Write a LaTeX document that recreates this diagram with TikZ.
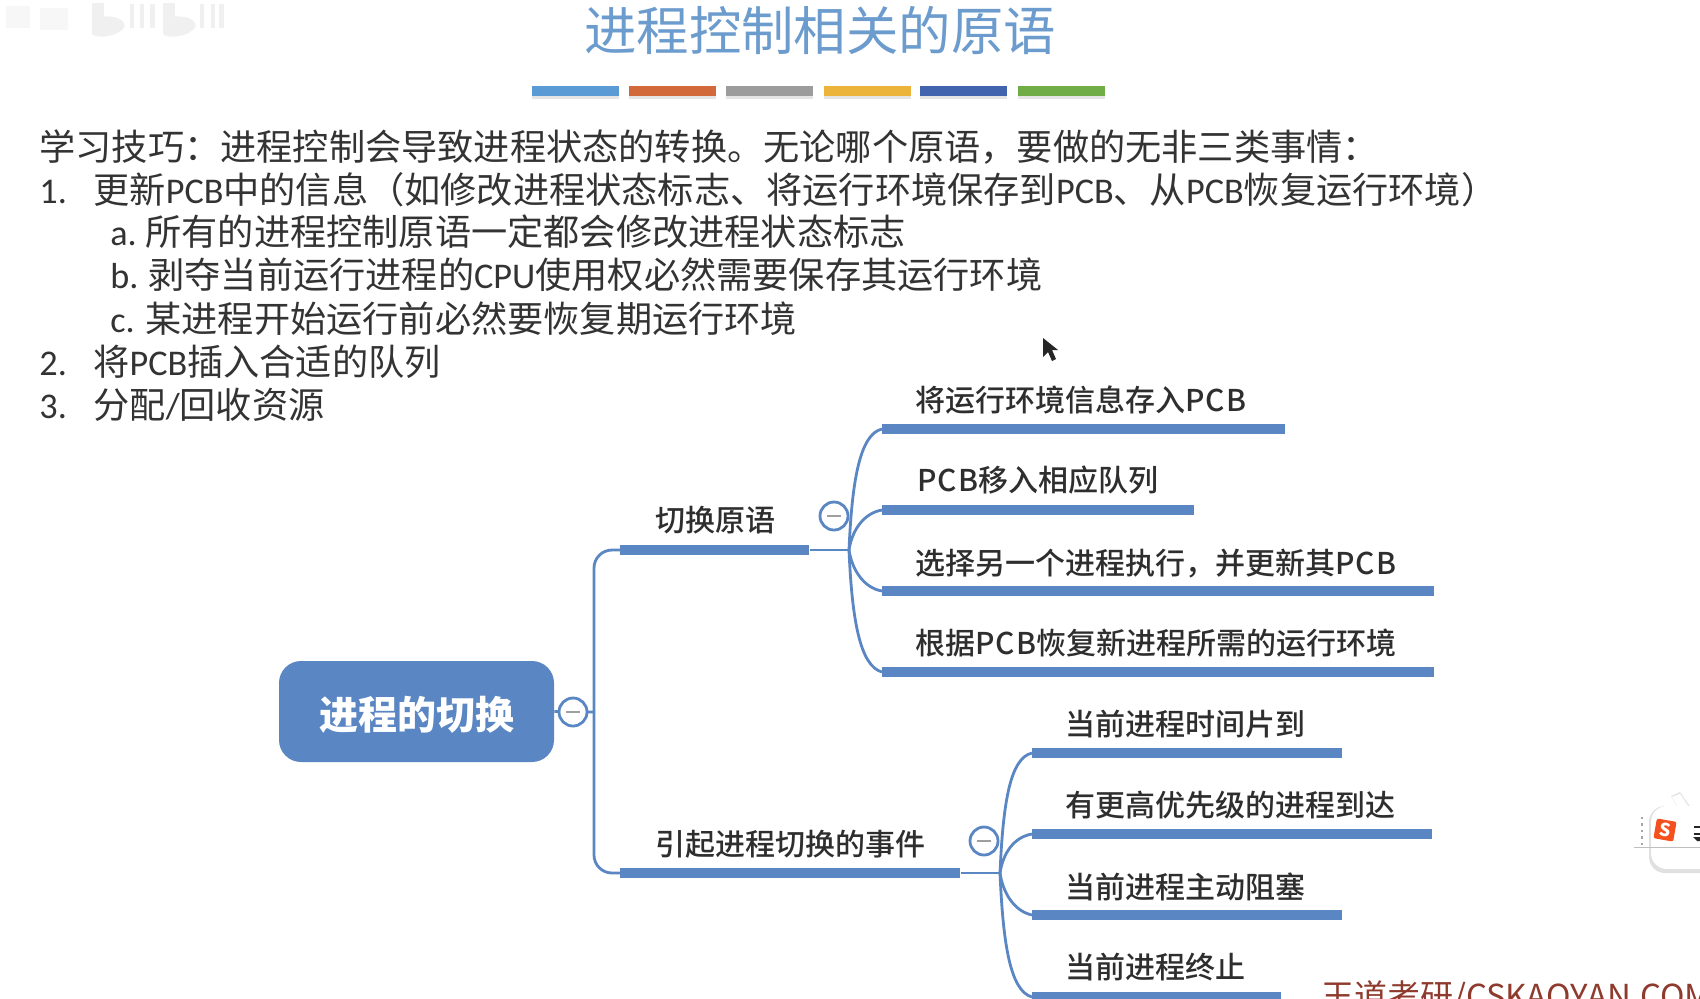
\documentclass[tikz,border=0pt]{standalone}
\usepackage{fontspec}
\setmainfont{Noto Sans CJK SC}
\newfontfamily\medi{Noto Sans CJK SC Medium}
\newfontfamily\lat{Carlito}
\newcommand\la[1]{{\lat #1}}
\newcommand\pcb{{\addfontfeature{LetterSpace=3}PCB}}
\definecolor{mapblue}{HTML}{5A86C3}
\definecolor{txt}{HTML}{2E2E2E}
\definecolor{body}{HTML}{333333}
\definecolor{titleblue}{HTML}{6C9CCD}
\definecolor{sitered}{HTML}{8E3B2E}
\definecolor{imeorange}{HTML}{F4511E}
\tikzset{
  bodyline/.style={anchor=base west,inner sep=0pt,text=body,font=\fontsize{18.1}{20}\selectfont},
  maptext/.style={anchor=base west,inner sep=0pt,text=txt,font=\medi\fontsize{15}{18}\selectfont},
  barline/.style={anchor=west,fill=mapblue,inner sep=0pt,minimum height=4.6pt},
  link/.style={draw=mapblue,line width=1.4pt},
  minusdot/.style={circle,draw=mapblue,line width=1.4pt,fill=white,inner sep=0pt,minimum size=14pt},
  minusbar/.style={draw=gray!75,line width=1.2pt},
  ribbon/.style={anchor=north west,inner sep=0pt,minimum width=43.5pt,minimum height=4.8pt}
}
\begin{document}
\begin{tikzpicture}[x=0.5pt,y=-0.5pt]
\clip (0,0) rectangle (1700,998);
\fill[white] (0,0) rectangle (1700,998);

% faint watermark, top left
\begin{scope}[black!6]
\fill (92,3) rectangle (104,30);
\fill (92,18) .. controls (120,12) and (130,24) .. (122,30) .. controls (112,38) and (95,38) .. (92,34) -- cycle;
\fill (163,3) rectangle (175,30);
\fill (163,18) .. controls (191,12) and (201,24) .. (193,30) .. controls (183,38) and (166,38) .. (163,34) -- cycle;
\fill (130,4) rectangle (134,28); \fill (140,4) rectangle (144,28); \fill (150,4) rectangle (155,28);
\fill (200,4) rectangle (204,28); \fill (211,4) rectangle (215,28); \fill (219,4) rectangle (224,28);
\end{scope}
\fill[black!3] (6,6) rectangle (30,28);
\fill[black!3] (40,8) rectangle (68,30);

% title
\node[anchor=base,inner sep=0pt,text=titleblue,font=\fontsize{26.2}{30}\selectfont] (title) at (820,50) {进程控制相关的原语};

% ribbon
\foreach \x/\c in {532/5B9BD5,629/D2693A,726/9C9C9C,824/EDB43C,920/4263AE,1018/70AD47}{
  \definecolor{rb}{HTML}{\c}
  \fill[black!10] (\x,90) rectangle (\x+87,99);
  \node[ribbon,fill=rb] at (\x,85.5) {};
}

% body text
\node[bodyline] (l0) at (39,160) {学习技巧：进程控制会导致进程状态的转换。无论哪个原语，要做的无非三类事情：};
\node[bodyline] (n1) at (39,203) {\la{1.}};
\node[bodyline] (l1) at (93,203) {更新\la{PCB}中的信息（如修改进程状态标志、将运行环境保存到\la{PCB}、从\la{PCB}恢复运行环境）};
\node[bodyline] (na) at (110,245) {\la{a.}};
\node[bodyline] (la) at (145,245) {所有的进程控制原语一定都会修改进程状态标志};
\node[bodyline] (nb) at (110,288) {\la{b.}};
\node[bodyline] (lb) at (148,288) {剥夺当前运行进程的\la{CPU}使用权必然需要保存其运行环境};
\node[bodyline] (nc) at (110,332) {\la{c.}};
\node[bodyline] (lc) at (145,332) {某进程开始运行前必然要恢复期运行环境};
\node[bodyline] (n2) at (39,375) {\la{2.}};
\node[bodyline] (l2) at (93,375) {将\la{PCB}插入合适的队列};
\node[bodyline] (n3) at (39,418) {\la{3.}};
\node[bodyline] (l3) at (93,418) {分配\la{/}回收资源};

% cursor
\fill[black!85] (1043,338) -- (1043,357) -- (1048,352) -- (1052,361) -- (1056,359) -- (1052,350) -- (1058,350) -- cycle;

% mind map: root and bars
\node[rounded corners=11pt,fill=mapblue,minimum width=137.5pt,minimum height=50.5pt,inner sep=0pt,text=white,font=\fontsize{19.5}{22}\bfseries\selectfont] (root) at (416.5,711.5) {\smash{\raisebox{-9pt}{进程的切换}}};

\node[barline,minimum width=94.5pt] (s1) at (620,550) {};
\node[barline,minimum width=170pt] (s2) at (620,873) {};

\node[barline,minimum width=201.5pt] (t1) at (882,429) {};
\node[barline,minimum width=156pt] (t2) at (882,510) {};
\node[barline,minimum width=276pt] (t3) at (882,591) {};
\node[barline,minimum width=276pt] (t4) at (882,672) {};

\node[barline,minimum width=155pt] (b1) at (1032,753) {};
\node[barline,minimum width=200pt] (b2) at (1032,834) {};
\node[barline,minimum width=155pt] (b3) at (1032,915) {};
\node[barline,minimum width=124.5pt] (b4) at (1032,997) {};

% connectors
\coordinate (hubtop) at (849,550);
\coordinate (hubbot) at (1000,873);
\coordinate (trunk) at (594,712);

\draw[link,rounded corners=9pt] (s1.west) -| (trunk) |- (s2.west);
\draw[link] (root.east) -- (trunk);

\draw[link] (s1.east) -- (hubtop);
\draw[link] (hubtop) .. controls (852,480) and (860,434) .. (t1.west);
\draw[link] (hubtop) .. controls (852,530) and (864,513) .. (t2.west);
\draw[link] (hubtop) .. controls (852,570) and (864,588) .. (t3.west);
\draw[link] (hubtop) .. controls (852,620) and (860,666) .. (t4.west);

\draw[link] (s2.east) -- (hubbot);
\draw[link] (hubbot) .. controls (1003,803) and (1010,758) .. (b1.west);
\draw[link] (hubbot) .. controls (1003,853) and (1014,837) .. (b2.west);
\draw[link] (hubbot) .. controls (1003,893) and (1014,911) .. (b3.west);
\draw[link] (hubbot) .. controls (1003,943) and (1010,991) .. (b4.west);

% collapse marks
\node[minusdot] (c0) at (573,712) {};
\draw[minusbar] ([xshift=-3.5pt]c0.center) -- ([xshift=3.5pt]c0.center);
\node[minusdot] (c1) at (834,516) {};
\draw[minusbar] ([xshift=-3.5pt]c1.center) -- ([xshift=3.5pt]c1.center);
\node[minusdot] (c2) at (984,841) {};
\draw[minusbar] ([xshift=-3.5pt]c2.center) -- ([xshift=3.5pt]c2.center);

% map labels
\node[maptext] at (655,531) {切换原语};
\node[maptext] at (655,855) {引起进程切换的事件};

\node[maptext] at (915,411) {将运行环境信息存入\pcb};
\node[maptext] at (917,491) {\pcb 移入相应队列};
\node[maptext] at (915,574) {选择另一个进程执行，并更新其\pcb};
\node[maptext] at (915,654) {根据\pcb 恢复新进程所需的运行环境};

\node[maptext] at (1065,735) {当前进程时间片到};
\node[maptext] at (1065,816) {有更高优先级的进程到达};
\node[maptext] at (1065,898) {当前进程主动阻塞};
\node[maptext] at (1065,978) {当前进程终止};

% site mark, cut by the lower edge
\node[anchor=base west,inner sep=0pt,text=sitered,font=\fontsize{16.5}{18}\selectfont] (site) at (1321,1008) {王道考研/CSKAOYAN.COM};

% input method badge at the right edge
\fill[black!12,rounded corners=8pt] (1649,806) rectangle (1720,873);
\fill[black!10] (1671,796) -- (1680,792) -- (1694,812) -- (1682,816) -- cycle;
\fill[white] (1672,797) -- (1680,794) -- (1692,812) -- (1682,815) -- cycle;
\fill[white,rounded corners=8pt] (1651,806) rectangle (1720,869);
\draw[black!35,dotted,line width=1.2pt] (1642,817) -- (1642,847);
\draw[black!25,line width=.4pt] (1634,847) -- (1700,847);
\node[rotate=-10,fill=imeorange,rounded corners=1pt,minimum size=10pt,inner sep=0pt,text=white,font=\fontsize{9}{9}\bfseries\selectfont] (ime) at (1665,830) {S};
\fill[black!85] (1694,826) rectangle (1700,828);
\fill[black!85] (1694,833) rectangle (1700,835);
\fill[black!85] (1693,837) -- (1700,837) -- (1700,841) -- (1697,841) -- cycle;
\end{tikzpicture}
\end{document}
